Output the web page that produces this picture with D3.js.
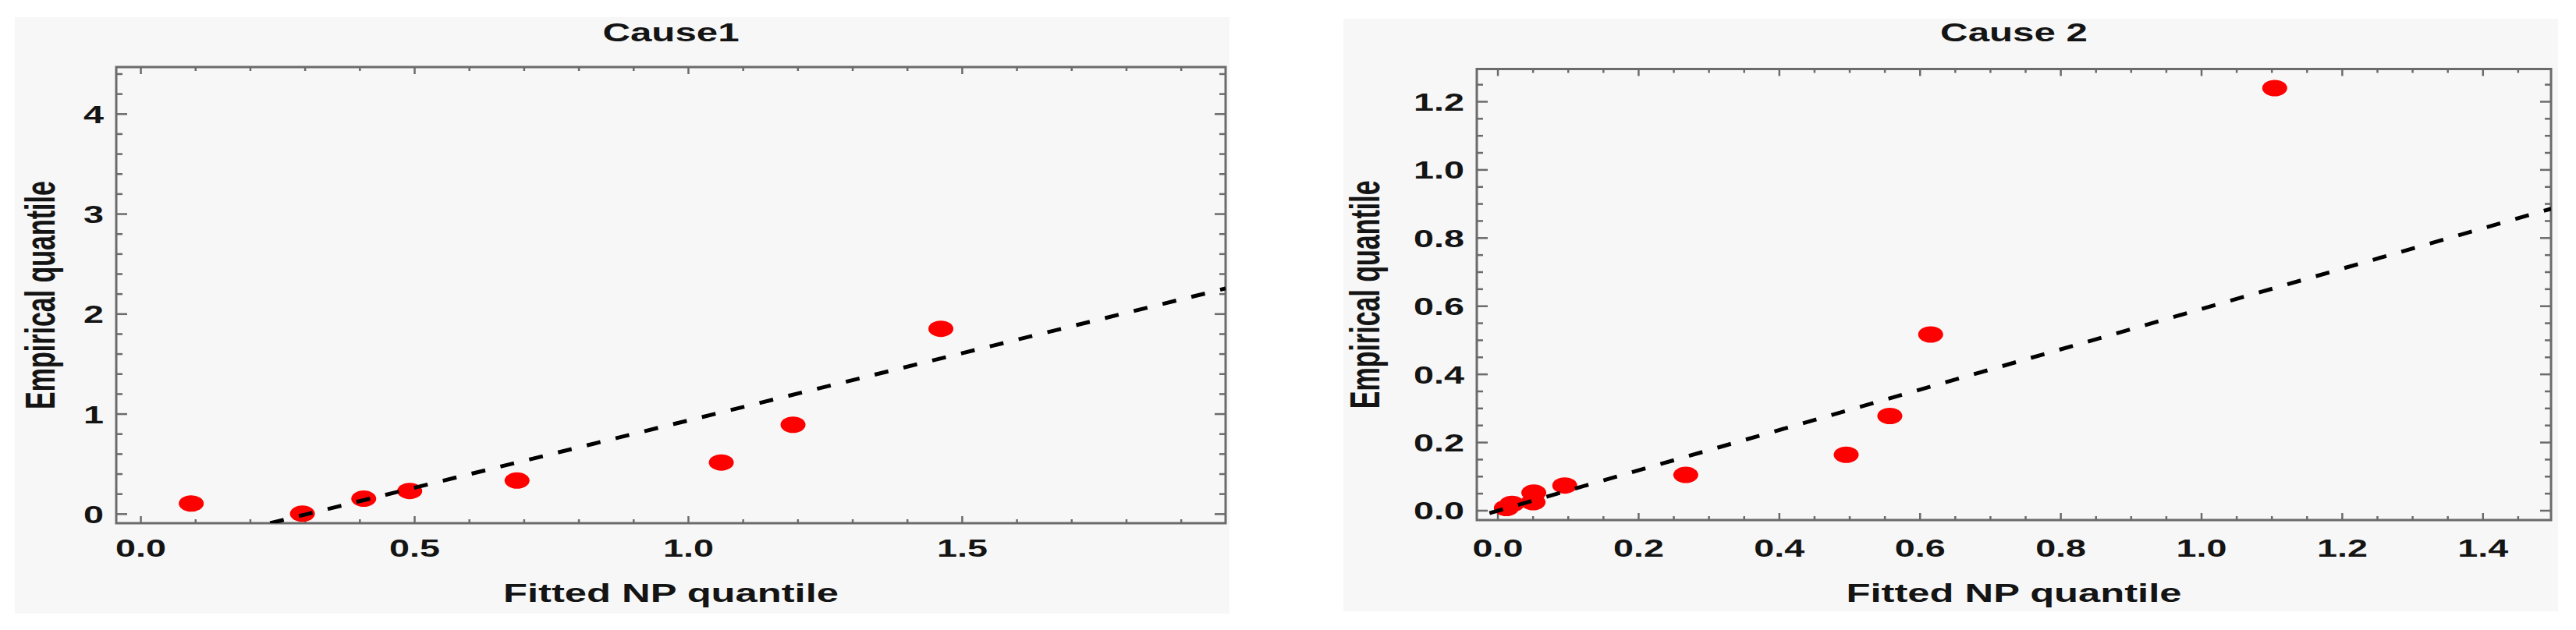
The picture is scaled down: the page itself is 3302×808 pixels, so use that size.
<!DOCTYPE html>
<html><head><meta charset="utf-8">
<script src="https://cdn.jsdelivr.net/npm/d3@7"></script>
<style>
body{margin:0;background:#fff}
svg{display:block}
text{font-family:"Liberation Sans",Arial,sans-serif;font-weight:bold;fill:#141414}
</style>
</head><body>
<svg id="chart" width="3302" height="808"></svg>
<script>
// ---- data ----
const cause1Titles = ["Cause1"];
const cause1X = [0.092, 0.295, 0.407, 0.491, 0.687, 1.060, 1.191, 1.461];
const cause1Y = [0.106, 0.004, 0.154, 0.231, 0.335, 0.516, 0.893, 1.853];
const cause1LineX = [0.236, 1.981];
const cause1LineY = [-0.091, 2.256];
const cause1XTicks = [0.0, 0.5, 1.0, 1.5];
const cause1YTicks = [0, 1, 2, 3, 4];

const cause2Titles = ["Cause 2"];
const cause2X = [0.012, 0.020, 0.050, 0.051, 0.095, 0.267, 0.495, 0.557, 0.615, 1.104];
const cause2Y = [0.008, 0.020, 0.025, 0.053, 0.074, 0.105, 0.164, 0.278, 0.517, 1.240];
const cause2LineX = [-0.012, 1.497];
const cause2LineY = [-0.007, 0.886];
const cause2XTicks = [0.0, 0.2, 0.4, 0.6, 0.8, 1.0, 1.2, 1.4];
const cause2YTicks = [0.0, 0.2, 0.4, 0.6, 0.8, 1.0, 1.2];

const xTitle = "Fitted NP quantile";
const yTitle = "Empirical quantile";

// ---- layout ----
const panels = [
  {title: cause1Titles[0], xs: cause1X, ys: cause1Y, lx: cause1LineX, ly: cause1LineY,
   xt: cause1XTicks, yt: cause1YTicks, xfmt: d3.format(".1f"), yfmt: d3.format("d"),
   bg: {x: 19, y: 22, w: 1557, h: 765},
   fr: {l: 149, t: 86, r: 1571, b: 671},
   xd: [-0.045, 1.981], yd: [-0.091, 4.47], xm: 10, ym: 5, // minor ticks per unit
   yTitleX: 70},
  {title: cause2Titles[0], xs: cause2X, ys: cause2Y, lx: cause2LineX, ly: cause2LineY,
   xt: cause2XTicks, yt: cause2YTicks, xfmt: d3.format(".1f"), yfmt: d3.format(".1f"),
   bg: {x: 1722, y: 24, w: 1557, h: 760},
   fr: {l: 1893, t: 88.5, r: 3270, b: 667},
   xd: [-0.030, 1.4967], yd: [-0.0275, 1.296], xm: 20, ym: 20,
   yTitleX: 1768}
];

const svg = d3.select("#chart");
const axisColor = "#6b6b6b";

panels.forEach((p, i) => {
  const g = svg.append("g");
  const x = d3.scaleLinear().domain(p.xd).range([p.fr.l, p.fr.r]);
  const y = d3.scaleLinear().domain(p.yd).range([p.fr.b, p.fr.t]);

  g.append("rect").attr("x", p.bg.x).attr("y", p.bg.y).attr("width", p.bg.w).attr("height", p.bg.h)
    .attr("fill", "#f7f7f7");

  const clipId = "clip" + i;
  g.append("clipPath").attr("id", clipId).append("rect")
    .attr("x", p.fr.l).attr("y", p.fr.t).attr("width", p.fr.r - p.fr.l).attr("height", p.fr.b - p.fr.t);

  // minor / major ticks (inward, mirrored on all sides)
  const xMinor = d3.range(Math.ceil(p.xd[0] * p.xm), Math.floor(p.xd[1] * p.xm) + 1).map(k => k / p.xm);
  const yMinor = d3.range(Math.ceil(p.yd[0] * p.ym), Math.floor(p.yd[1] * p.ym) + 1).map(k => k / p.ym);
  const isMajor = (v, arr) => arr.some(t => Math.abs(t - v) < 1e-6);

  const tg = g.append("g").attr("stroke", axisColor).attr("stroke-width", 2.5);
  xMinor.forEach(v => {
    const len = isMajor(v, p.xt) ? 9 : 5;
    tg.append("line").attr("x1", x(v)).attr("x2", x(v)).attr("y1", p.fr.b).attr("y2", p.fr.b - len);
    tg.append("line").attr("x1", x(v)).attr("x2", x(v)).attr("y1", p.fr.t).attr("y2", p.fr.t + len);
  });
  yMinor.forEach(v => {
    const len = isMajor(v, p.yt) ? 14 : 8;
    tg.append("line").attr("y1", y(v)).attr("y2", y(v)).attr("x1", p.fr.l).attr("x2", p.fr.l + len);
    tg.append("line").attr("y1", y(v)).attr("y2", y(v)).attr("x1", p.fr.r).attr("x2", p.fr.r - len);
  });

  g.append("rect").attr("x", p.fr.l).attr("y", p.fr.t).attr("width", p.fr.r - p.fr.l).attr("height", p.fr.b - p.fr.t)
    .attr("fill", "none").attr("stroke", axisColor).attr("stroke-width", 3);

  // tick labels
  g.selectAll(".xl").data(p.xt).join("text")
    .attr("text-anchor", "middle").attr("font-size", 32)
    .attr("transform", d => `translate(${x(d)},713.5) scale(1.46,1)`)
    .text(d => p.xfmt(d));
  g.selectAll(".yl").data(p.yt).join("text")
    .attr("text-anchor", "end").attr("font-size", 32)
    .attr("transform", d => `translate(${p.fr.l - 16},${y(d) + 11.5}) scale(1.46,1)`)
    .text(d => p.yfmt(d));

  // titles
  const cx = (p.fr.l + p.fr.r) / 2;
  g.append("text").attr("text-anchor", "middle").attr("font-size", 33.5)
    .attr("transform", `translate(${cx},53) scale(1.47,1)`).text(p.title);
  g.append("text").attr("text-anchor", "middle").attr("font-size", 32.7)
    .attr("transform", `translate(${cx},771.5) scale(1.55,1)`).text(xTitle);
  g.append("text").attr("text-anchor", "middle").attr("font-size", 34)
    .attr("transform", `translate(${p.yTitleX},${(p.fr.t + p.fr.b) / 2}) scale(1.6,1) rotate(-90)`).text(yTitle);

  // points
  const pts = p.xs.map((v, k) => [v, p.ys[k]]);
  g.append("g").attr("clip-path", `url(#${clipId})`)
    .selectAll("ellipse").data(pts).join("ellipse")
    .attr("cx", d => x(d[0])).attr("cy", d => y(d[1])).attr("rx", 16).attr("ry", 10.5)
    .attr("fill", "#ff0000");

  // reference line
  const line = d3.line().x(d => x(d[0])).y(d => y(d[1]));
  g.append("path").attr("clip-path", `url(#${clipId})`)
    .datum(p.lx.map((v, k) => [v, p.ly[k]]))
    .attr("d", line).attr("fill", "none").attr("stroke", "#000")
    .attr("stroke-width", 5).attr("stroke-dasharray", "18 20");
});
</script>
</body></html>
